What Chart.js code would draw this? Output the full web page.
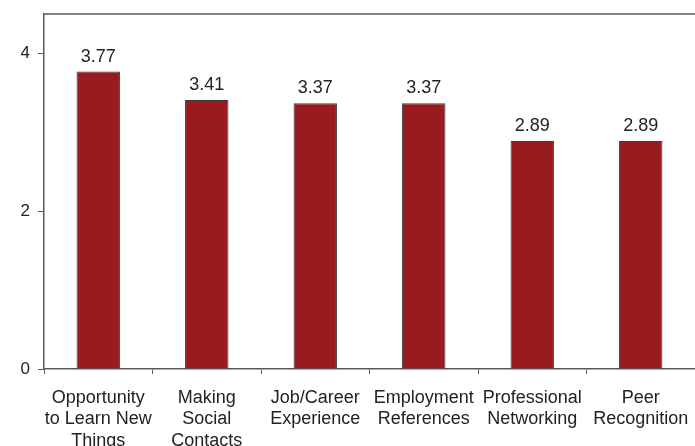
<!DOCTYPE html>
<html>
<head>
<meta charset="utf-8">
<script src="https://cdn.jsdelivr.net/npm/chart.js@4/dist/chart.umd.min.js"></script>
<style>
    html, body { margin: 0; padding: 0; background: #fff; overflow: hidden; }
    #wrap { width: 695px; height: 446px; position: relative; }
</style>
</head>
<body>
<div id="wrap"><canvas id="myChart"></canvas></div>
<script>
const categories = [
    ['Opportunity', 'to Learn New', 'Things'],
    ['Making', 'Social', 'Contacts'],
    ['Job/Career', 'Experience'],
    ['Employment', 'References'],
    ['Professional', 'Networking'],
    ['Peer', 'Recognition']
];
const scores = [3.77, 3.41, 3.37, 3.37, 2.89, 2.89];
const yTicks = [0, 2, 4];

const FONT = "'Liberation Sans', Arial, sans-serif";

// Values printed above each bar
const valueLabels = {
    id: 'valueLabels',
    afterDatasetsDraw(chart) {
        const ctx = chart.ctx;
        const meta = chart.getDatasetMeta(0);
        ctx.save();
        ctx.font = '18px ' + FONT;
        ctx.fillStyle = '#222';
        ctx.textAlign = 'center';
        ctx.textBaseline = 'alphabetic';
        meta.data.forEach((bar, i) => {
            ctx.fillText(scores[i].toFixed(2), bar.x, bar.y - 10);
        });
        ctx.restore();
    }
};

// Frame line along the top of the plot
const topLine = {
    id: 'topLine',
    afterDraw(chart) {
        const a = chart.chartArea;
        const ctx = chart.ctx;
        ctx.save();
        ctx.strokeStyle = '#5a5a5a';
        ctx.lineWidth = 1.5;
        ctx.beginPath();
        ctx.moveTo(a.left, a.top);
        ctx.lineTo(a.right, a.top);
        ctx.stroke();
        ctx.restore();
    }
};

const config = {
    type: 'bar',
    data: {
        labels: categories,
        datasets: [{
            data: scores,
            backgroundColor: '#981b1f',
            borderColor: '#3a3a3a',
            borderWidth: 1,
            categoryPercentage: 0.4,
            barPercentage: 1
        }]
    },
    options: {
        responsive: true,
        maintainAspectRatio: false,
        animation: false,
        layout: { padding: { top: 14, left: 0, right: 0, bottom: 0 } },
        plugins: {
            legend: { display: false },
            tooltip: { enabled: false }
        },
        scales: {
            x: {
                grid: {
                    drawOnChartArea: false,
                    drawTicks: true,
                    tickLength: 5,
                    color: '#5a5a5a',
                    offset: true
                },
                border: { color: '#5a5a5a', width: 1.5 },
                ticks: {
                    color: '#222',
                    font: { family: FONT, size: 18, lineHeight: 1.2 },
                    padding: 13,
                    maxRotation: 0,
                    autoSkip: false
                },
                afterFit: (scale) => {
                    scale.height = 77;
                    scale.paddingLeft = 0;
                    scale.paddingRight = 0;
                }
            },
            y: {
                min: 0,
                max: 4.5,
                grid: {
                    drawOnChartArea: false,
                    drawTicks: true,
                    tickLength: 6,
                    color: '#5a5a5a'
                },
                border: { color: '#5a5a5a', width: 1.5 },
                ticks: {
                    stepSize: 2,
                    color: '#222',
                    font: { family: FONT, size: 17 },
                    padding: 8
                },
                afterBuildTicks: (scale) => {
                    scale.ticks = yTicks.map(v => ({ value: v }));
                },
                afterFit: (scale) => {
                    scale.width = 44;
                    scale.paddingTop = 0;
                    scale.paddingBottom = 0;
                }
            }
        }
    },
    plugins: [valueLabels, topLine]
};

const graph = new Chart(document.getElementById('myChart'), config);
</script>
</body>
</html>
